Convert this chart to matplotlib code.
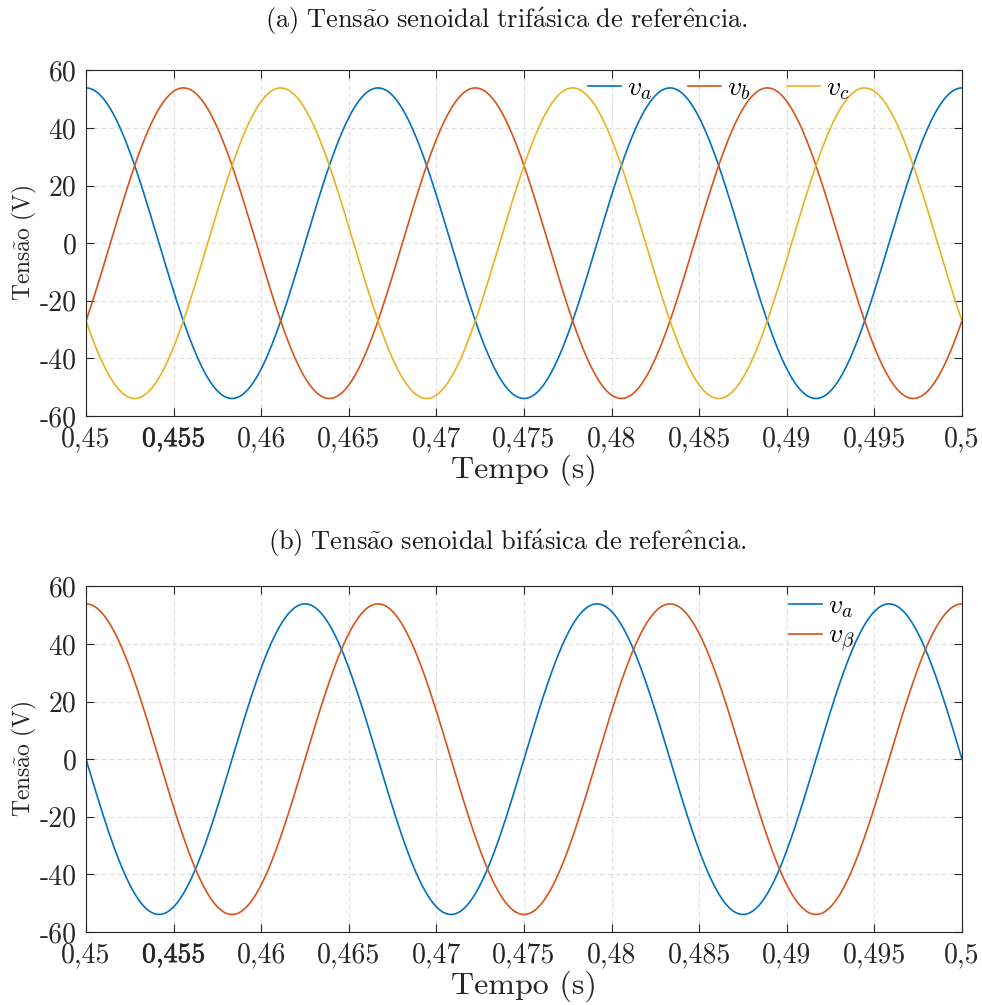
import numpy as np
import matplotlib
matplotlib.use("Agg")
import matplotlib.pyplot as plt
import matplotlib.patheffects as pe

# ---- data (parameters) ----
t_start, t_end = 0.45, 0.5
amplitude = 53.9          # V, peak value
frequency = 60.0          # Hz
phases_abc = [0.0, -2*np.pi/3, 2*np.pi/3]   # va, vb, vc (cosine reference)
labels_abc = [r"$v_a$", r"$v_b$", r"$v_c$"]
labels_ab = [r"$v_a$", r"$v_\beta$"]
xticks = [0.45, 0.455, 0.46, 0.465, 0.47, 0.475, 0.48, 0.485, 0.49, 0.495, 0.5]
xticklabels = ["0,45", "0,455", "0,46", "0,465", "0,47", "0,475", "0,48", "0,485", "0,49", "0,495", "0,5"]
yticks = [-60, -40, -20, 0, 20, 40, 60]
yticklabels = ["-60", "-40", "-20", "0", "20", "40", "60"]
titles = [r"$\mathrm{(a)\ Tens\tilde{a}o\ senoidal\ trif\acute{a}sica\ de\ refer\hat{e}ncia.}$",
          r"$\mathrm{(b)\ Tens\tilde{a}o\ senoidal\ bif\acute{a}sica\ de\ refer\hat{e}ncia.}$"]
xlabel = "Tempo (s)"
ylabel = r"$\mathrm{Tens\tilde{a}o\ (V)}$"

colors = ["#0072BD", "#D95319", "#EDB120"]

plt.rcParams["font.family"] = ["cmr10", "DejaVu Serif"]
plt.rcParams["mathtext.fontset"] = "cm"
plt.rcParams["axes.unicode_minus"] = False
plt.rcParams["axes.formatter.use_mathtext"] = True

t = np.linspace(t_start, t_end, 4000)
w = 2*np.pi*frequency
v_abc = [amplitude*np.cos(w*t + p) for p in phases_abc]
# Clarke transform (amplitude-invariant), as drawn
v_alpha = -amplitude*np.sin(w*t)
v_beta = amplitude*np.cos(w*t)

fig = plt.figure(figsize=(9.82, 10.05), dpi=100)
ax1 = fig.add_axes([0.0876, 0.586, 0.892, 0.344])
ax2 = fig.add_axes([0.0876, 0.0726, 0.892, 0.344])

axcol = "#262626"
for ax in (ax1, ax2):
    ax.set_xlim(t_start, t_end)
    ax.set_ylim(-60, 60)
    ax.set_xticks(xticks)
    ax.set_xticklabels(xticklabels, fontsize=20)
    ax.set_yticks(yticks)
    ax.set_yticklabels(yticklabels, fontsize=20)
    ax.xaxis.get_ticklabels()[1].set_path_effects(
        [pe.withStroke(linewidth=0.4, foreground=axcol)])
    ax.grid(True, linestyle=(0, (4, 3)), color="#dcdcdc", linewidth=0.8)
    ax.set_axisbelow(True)
    ax.tick_params(direction="in", top=True, right=True, length=6, width=0.8,
                   colors=axcol)
    ax.tick_params(axis="x", pad=7)
    ax.tick_params(axis="y", pad=7)
    for s in ax.spines.values():
        s.set_color(axcol)
        s.set_linewidth(0.8)
    ax.set_xlabel(xlabel, fontsize=23, labelpad=2, color="#262626")
    ax.set_ylabel(ylabel, fontsize=17, labelpad=0, color="#262626")

for v, c, lab in zip(v_abc, colors, labels_abc):
    ax1.plot(t, v, color=c, lw=1.2, label=lab)
ax1.legend(loc="upper left", ncol=3, frameon=False, fontsize=20,
           handlelength=1.2, handletextpad=0.2, columnspacing=1.3,
           borderaxespad=0.0, borderpad=0.0, bbox_to_anchor=(0.573, 0.986))

ax2.plot(t, v_alpha, color=colors[0], lw=1.2, label=labels_ab[0])
ax2.plot(t, v_beta, color=colors[1], lw=1.2, label=labels_ab[1])
ax2.legend(loc="upper left", frameon=False, fontsize=20,
           handlelength=1.2, handletextpad=0.2, labelspacing=0.1,
           borderaxespad=0.0, borderpad=0.0, bbox_to_anchor=(0.8025, 0.98))

fig.text(0.516, 0.979, titles[0], ha="center", va="center", fontsize=19, color="#1a1a1a")
fig.text(0.516, 0.459, titles[1], ha="center", va="center", fontsize=19, color="#1a1a1a")

fig.savefig("out.png", dpi=100)
